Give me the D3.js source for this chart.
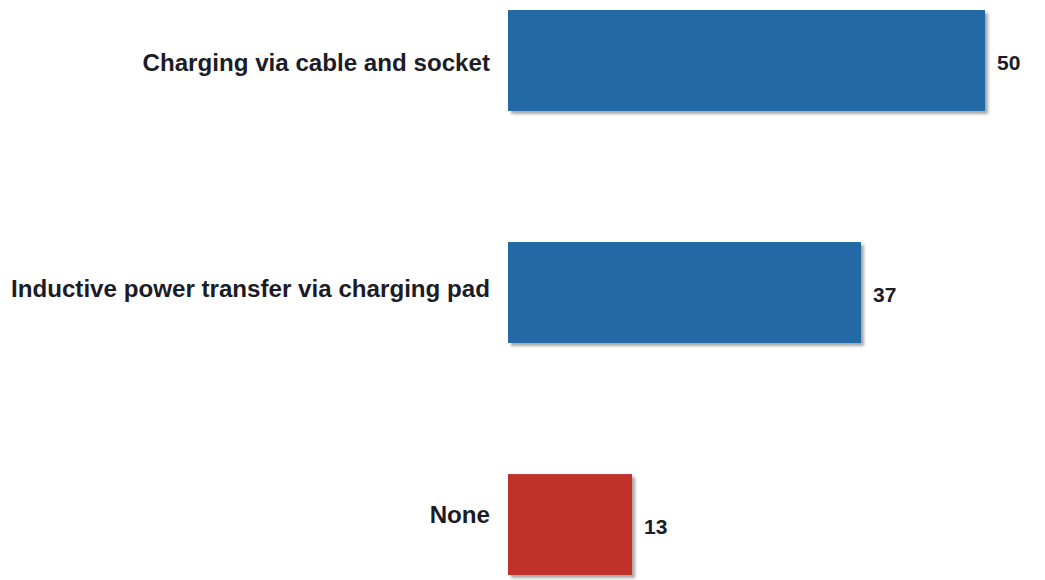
<!DOCTYPE html>
<html>
<head>
<meta charset="utf-8">
<script src="https://cdn.jsdelivr.net/npm/d3@7.9.0/dist/d3.min.js"></script>
<style>
  body { margin: 0; background: #fff; }
  svg { display: block; font-family: "Liberation Sans", Arial, sans-serif; }
</style>
</head>
<body>
<div id="chart"></div>
<script>
const categories = ['Charging via cable and socket', 'Inductive power transfer via charging pad', 'None'];
const values = [50, 37, 13];
const colors = ['#2269a6', '#2269a6', '#c0302a'];

const width = 1045;
const height = 580;

const svg = d3.select('#chart')
    .append('svg')
    .attr('width', width)
    .attr('height', height);

// soft drop shadow like the original
const defs = svg.append('defs');
const filter = defs.append('filter')
    .attr('id', 'shadow')
    .attr('x', '-5%').attr('y', '-5%')
    .attr('width', '115%').attr('height', '120%');
filter.append('feDropShadow')
    .attr('dx', 3).attr('dy', 3)
    .attr('stdDeviation', 1.5)
    .attr('flood-color', '#000')
    .attr('flood-opacity', 0.35);

const xScale = d3.scaleLinear()
    .domain([0, 50])
    .range([508, 985]);

const yScale = d3.scaleBand()
    .domain(categories)
    .range([10, 575])
    .paddingInner(0.565)
    .paddingOuter(0);

// category labels sit a little tighter than the bars
const labelY = d3.scalePoint()
    .domain(categories)
    .range([63, 515]);

const data = categories.map((c, i) => ({ category: c, value: values[i], color: colors[i] }));

// bars
svg.append('g')
    .selectAll('rect')
    .data(data)
    .join('rect')
    .attr('x', xScale(0))
    .attr('y', d => yScale(d.category))
    .attr('width', d => xScale(d.value) - xScale(0))
    .attr('height', yScale.bandwidth())
    .attr('fill', d => d.color)
    .attr('filter', 'url(#shadow)');

// category labels (slightly stretched, as in the original)
svg.append('g')
    .selectAll('text')
    .data(data)
    .join('text')
    .attr('transform', d => `translate(490, ${labelY(d.category)}) scale(1.05, 1)`)
    .attr('dy', '0.35em')
    .attr('text-anchor', 'end')
    .attr('font-size', 23)
    .attr('font-weight', 'bold')
    .attr('fill', '#1c1c28')
    .text(d => d.category);

// value labels
svg.append('g')
    .selectAll('text')
    .data(data)
    .join('text')
    .attr('x', d => xScale(d.value) + 12)
    .attr('y', d => yScale(d.category) + yScale.bandwidth() / 2 + 2)
    .attr('dy', '0.35em')
    .attr('font-size', 21)
    .attr('font-weight', 'bold')
    .attr('fill', '#1c1c28')
    .text(d => d.value);
</script>
</body>
</html>
